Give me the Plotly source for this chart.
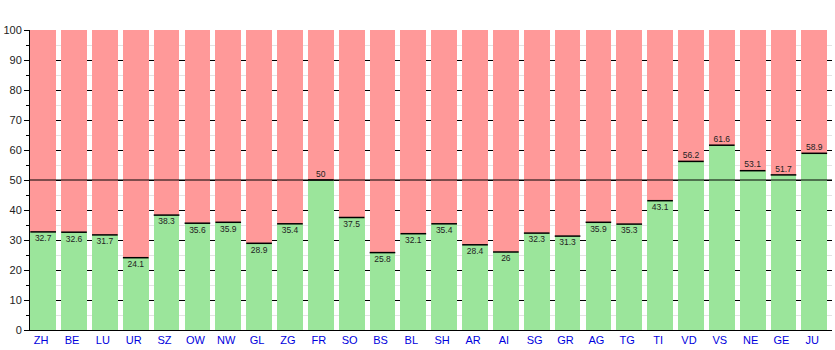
import plotly.graph_objects as go

cantons = ["ZH", "BE", "LU", "UR", "SZ", "OW", "NW", "GL", "ZG", "FR", "SO", "BS", "BL",
           "SH", "AR", "AI", "SG", "GR", "AG", "TG", "TI", "VD", "VS", "NE", "GE", "JU"]
yes_share = [32.7, 32.6, 31.7, 24.1, 38.3, 35.6, 35.9, 28.9, 35.4, 50, 37.5, 25.8, 32.1,
             35.4, 28.4, 26, 32.3, 31.3, 35.9, 35.3, 43.1, 56.2, 61.6, 53.1, 51.7, 58.9]
no_share = [round(100 - v, 1) for v in yes_share]
labels = [f"{v:g}" for v in yes_share]
threshold = 50

GREEN = "#9be59b"
RED = "#ff9999"
BARGAP = 0.166
half_bar = (1 - BARGAP) / 2
above = [v >= threshold for v in yes_share]

fig = go.Figure()
fig.add_trace(go.Bar(x=cantons, y=yes_share, marker=dict(color=GREEN, line=dict(width=0)),
                     hoverinfo="skip"))
fig.add_trace(go.Bar(x=cantons, y=no_share, marker=dict(color=RED, line=dict(width=0)),
                     hoverinfo="skip"))
# top edge of green part
fig.add_trace(go.Scatter(x=cantons, y=yes_share, mode="markers",
                         marker=dict(symbol="line-ew", size=18.3,
                                     line=dict(color="black", width=1.5)),
                         hoverinfo="skip"))
# value labels
fig.add_trace(go.Scatter(x=cantons, y=yes_share, mode="markers+text", text=labels,
                         marker=dict(size=[0.2 if a else 3.2 for a in above],
                                     color="rgba(0,0,0,0)", line=dict(width=0)),
                         textposition=["top center" if a else "bottom center" for a in above],
                         textfont=dict(size=8.5, color="#222222",
                                       family="Liberation Sans, Arial, sans-serif"),
                         hoverinfo="skip"))

fig.add_hline(y=threshold, line=dict(color="black", width=1), layer="above")

fig.update_layout(
    barmode="stack",
    bargap=BARGAP,
    width=835, height=350,
    margin=dict(l=30, r=3, t=30, b=20),
    plot_bgcolor="white", paper_bgcolor="white",
    showlegend=False,
    font=dict(family="Liberation Sans, Arial, sans-serif", size=11, color="#222222"),
)
fig.update_xaxes(range=[-half_bar - 0.01, len(cantons) - half_bar - 0.01],
                 showline=True, linecolor="black",
                 linewidth=1, ticks="", tickfont=dict(color="#0000dd", size=11),
                 ticklabelshift=-2, showgrid=False)
fig.update_yaxes(range=[0, 100], dtick=10, showline=True, linecolor="black", linewidth=1,
                 ticks="outside", ticklen=5, tickcolor="black",
                 showgrid=True, gridcolor="black", gridwidth=1,
                 minor=dict(dtick=5, showgrid=True, gridcolor="#e3e3e3",
                            ticks="outside", ticklen=3, tickcolor="black"),
                 zeroline=False, tickfont=dict(size=11, color="#222222"))

fig.write_html("out.html")
